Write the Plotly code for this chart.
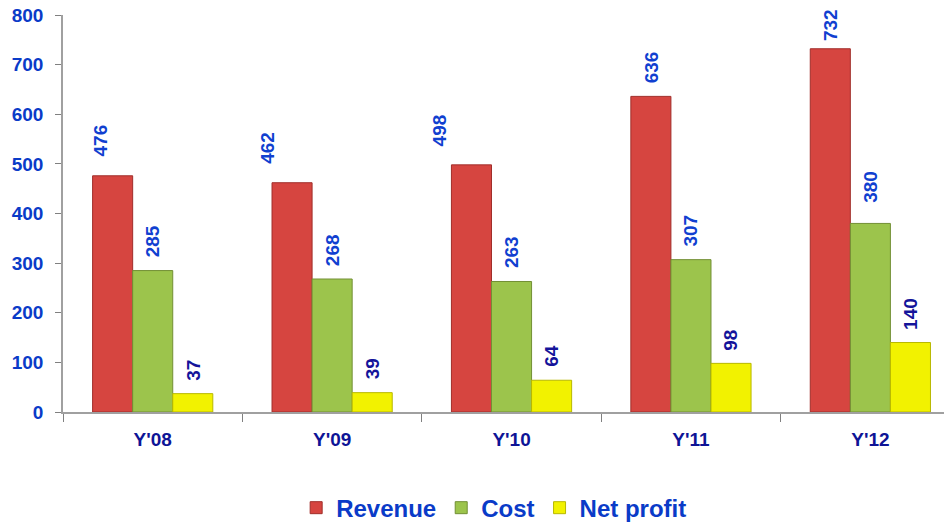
import plotly.graph_objects as go

categories = ["Y'08", "Y'09", "Y'10", "Y'11", "Y'12"]
revenue = [476, 462, 498, 636, 732]
cost = [285, 268, 263, 307, 380]
net_profit = [37, 39, 64, 98, 140]

series = [
    ("Revenue", revenue, "#D64540", "#A02E2A", "#1040D0"),
    ("Cost", cost, "#9CC44C", "#728F34", "#1040D0"),
    ("Net profit", net_profit, "#F2F200", "#B8B800", "#14149A"),
]
# manual label nudges (px) as in the original, per series
label_dx = {"Revenue": [-12, -24, -32, 0, 0], "Cost": [0, 0, 0, 0, 0], "Net profit": [0, 0, 0, 0, 0]}
label_dy = {"Revenue": [6, 6, 5, 0, -5], "Cost": [0, 0, 0, 0, 8], "Net profit": [0, 0, 0, 0, 0]}

FONT = "Liberation Sans"
BAR_PX = 40

fig = go.Figure()
annotations = []
for i, (name, vals, fill, edge, lab) in enumerate(series):
    fig.add_trace(go.Bar(
        name=name, x=categories, y=vals,
        marker=dict(color=fill, line=dict(color=edge, width=1)),
    ))
    for j, (c, v) in enumerate(zip(categories, vals)):
        annotations.append(dict(
            x=c, y=v, xref="x", yref="y", text=f"<b>{v}</b>", showarrow=False,
            textangle=-90, xanchor="center", yanchor="bottom",
            xshift=(i - 1) * BAR_PX + label_dx[name][j], yshift=11 + label_dy[name][j],
            font=dict(family=FONT, size=19, color=lab),
        ))

# the page adds an 8px body margin, so the figure is drawn 8px smaller
fig.update_layout(
    width=944, height=517,
    margin=dict(l=55, r=0, t=7, b=113, autoexpand=False),
    paper_bgcolor="white", plot_bgcolor="white",
    barmode="group", bargap=0.33, bargroupgap=0,
    annotations=annotations,
    font=dict(family=FONT),
    legend=dict(orientation="h", x=0.485, xanchor="center", y=-0.242, yanchor="middle",
                font=dict(family=FONT, size=24, color="#0A3BC8", weight="bold"),
                traceorder="normal"),
    xaxis=dict(
        range=[-0.5, 4.455], showgrid=False, zeroline=False, automargin=False,
        showline=True, linecolor="#A0A0A0", linewidth=1.5,
        ticks="outside", tickson="boundaries", ticklen=8, tickcolor="#808080",
        tickfont=dict(family=FONT, size=19, color="#0E1496", weight="bold"),
        ticklabelstandoff=9, ticklabeloverflow="allow",
    ),
    yaxis=dict(
        range=[0, 800], dtick=100, showgrid=False, zeroline=False, automargin=False,
        showline=True, linecolor="#A0A0A0", linewidth=1.5,
        ticks="outside", ticklen=6, tickcolor="#808080",
        tickfont=dict(family=FONT, size=19, color="#0A3BC8", weight="bold"),
        ticklabelstandoff=8, ticklabeloverflow="allow",
    ),
)

fig.write_html("out.html")
